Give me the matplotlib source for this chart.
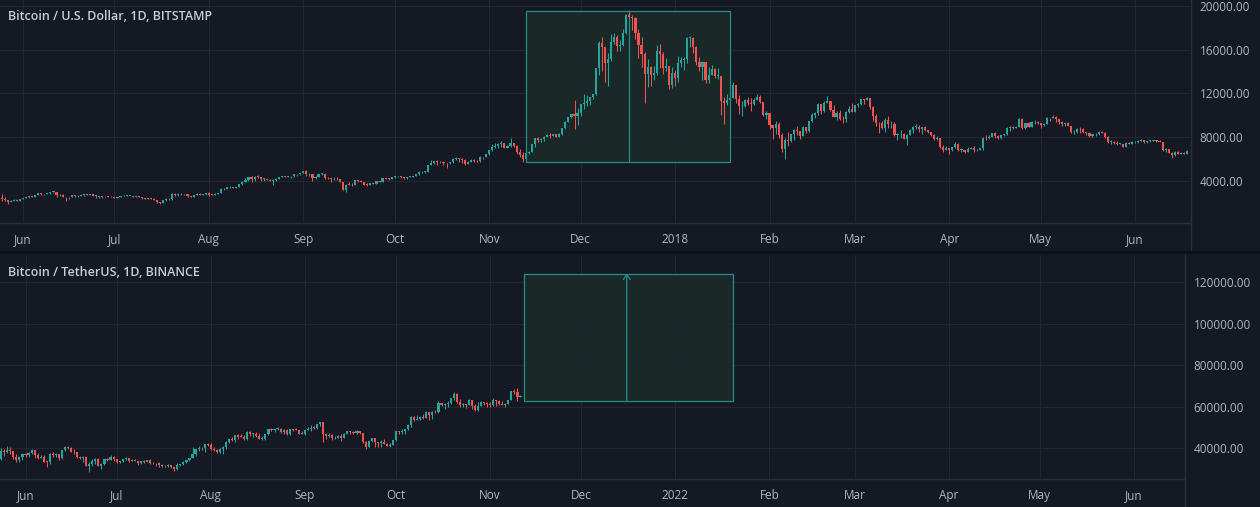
import matplotlib
matplotlib.use("Agg")
import matplotlib.pyplot as plt
import matplotlib.dates as mdates
from matplotlib.patches import Rectangle
from matplotlib.lines import Line2D
import numpy as np
import pandas as pd

BG = "#151924"
GRID = "#222632"
BORDER = "#2a2e39"
TXT = "#b2b5be"
TITLE = "#c9ccd4"
UP = "#26a69a"
DOWN = "#ef5350"
BOXLINE = "#238f84"

# ---- top pane: Bitcoin / U.S. Dollar, 1D, BITSTAMP (daily, from 2017-05-24)
top_title = "Bitcoin / U.S. Dollar, 1D, BITSTAMP"
top_start = "2017-05-24"
top_open0 = 2290
top_close = [
    2447, 2306, 2230, 2039, 2155, 2255, 2175, 2286,
    2407, 2488, 2515, 2511, 2686, 2863, 2732, 2805, 2823, 2947, 2958, 2659, 2717, 2506, 2464, 2518, 2655, 2548, 2589, 2721, 2689, 2705, 2745, 2589, 2589, 2478, 2577, 2574, 2539, 2481,
    2435, 2506, 2565, 2601, 2601, 2608, 2518, 2571, 2518, 2372, 2337, 2398, 2357, 2233, 1998, 1929, 2228, 2318, 2273, 2817, 2667, 2810, 2730, 2754, 2576, 2529, 2671, 2809, 2726, 2757, 2875,
    2718, 2710, 2804, 2895, 3252, 3213, 3379, 3419, 3342, 3381, 3650, 3884, 4073, 4326, 4181, 4376, 4331, 4160, 4193, 4087, 4001, 4100, 4151, 4334, 4371, 4352, 4382, 4382, 4579, 4565, 4703,
    4892, 4578, 4582, 4236, 4376, 4597, 4599, 4228, 4226, 4122, 4161, 4130, 3882, 3154, 3637, 3625, 3582, 4065, 3924, 3905, 3631, 3630, 3792, 3682, 3926, 3892, 4200, 4174, 4163, 4338,
    4403, 4409, 4317, 4229, 4328, 4370, 4426, 4610, 4772, 4781, 4826, 5446, 5647, 5831, 5678, 5725, 5606, 5590, 5708, 6011, 6031, 6008, 5930, 5526, 5750, 5904, 5780, 5753, 6153, 6130, 6468,
    6767, 7078, 7207, 7379, 7407, 7022, 7144, 7459, 7143, 6618, 6357, 5950, 6559, 6635, 7315, 7871, 7708, 7790, 8036, 8200, 8071, 8253, 8038, 8253, 8790, 9330, 9818, 10058, 9888, 10233,
    10975, 11074, 11323, 11657, 11916, 14291, 16600, 16200, 14800, 15100, 16700, 17200, 16300, 16400, 17500, 19200, 19000, 18900, 17500, 16400, 15600, 13800, 14400, 13700, 13900, 15900, 15600, 14300, 14500, 12800, 13900,
    13400, 14750, 15050, 15150, 17100, 17100, 16200, 14900, 14450, 14900, 13250, 13700, 14200, 13600, 13600, 11300, 11100, 11400, 11600, 12800, 11500, 10800, 10850, 11350, 11150, 11050, 11400, 11700, 11200, 10050, 10150,
    9100, 8850, 9150, 8200, 6900, 7700, 7600, 8250, 8650, 8550, 8100, 8880, 8550, 9480, 10050, 10150, 11050, 10400, 11150, 11250, 10450, 9850, 10150, 9650, 9600, 10300, 10600, 10320,
    10900, 11000, 11450, 11400, 11550, 10700, 9900, 9300, 9250, 8800, 9550, 9150, 9150, 8200, 8250, 8300, 7850, 8200, 8600, 8900, 8900, 8700, 8900, 8600, 8450, 8150, 7800, 7950, 7100, 6850, 6950,
    6850, 7050, 7400, 6800, 6800, 6620, 6900, 7000, 6780, 6830, 6950, 7900, 7880, 8000, 8350, 8050, 7900, 8150, 8270, 8850, 8900, 8800, 8930, 9650, 8860, 9280, 8920, 9340, 9400, 9240,
    9080, 9220, 9720, 9700, 9850, 9650, 9380, 9200, 9300, 9030, 8430, 8500, 8700, 8690, 8480, 8350, 8060, 8240, 8240, 8500, 8400, 8000, 7540, 7580, 7470, 7350, 7350, 7120, 7460, 7390, 7500,
    7530, 7640, 7710, 7500, 7620, 7650, 7680, 7620, 7520, 6780, 6890, 6560, 6320, 6650, 6430, 6530, 6480, 6700,
]
top_high = [
    2490, 2760, 2490, 2270, 2230, 2310, 2300, 2330,
    2450, 2510, 2550, 2560, 2700, 2910, 2890, 2815, 2860, 2975, 2980, 2990, 2790, 2790, 2530, 2530, 2670, 2680, 2640, 2740, 2800, 2770, 2780, 2770, 2650, 2620, 2600, 2610, 2600, 2560,
    2520, 2520, 2590, 2640, 2640, 2620, 2620, 2580, 2580, 2530, 2420, 2420, 2430, 2370, 2240, 2060, 2240, 2390, 2380, 2900, 2900, 2880, 2860, 2800, 2780, 2630, 2700, 2850, 2830, 2790, 2890,
    2920, 2760, 2830, 2900, 3290, 3290, 3400, 3480, 3430, 3420, 3680, 3950, 4200, 4330, 4400, 4390, 4480, 4370, 4200, 4180, 4110, 4140, 4240, 4370, 4460, 4380, 4400, 4390, 4630, 4650, 4740,
    4920, 4980, 4720, 4580, 4460, 4650, 4670, 4690, 4340, 4250, 4290, 4360, 4150, 3920, 3720, 3850, 3800, 4100, 4100, 4030, 3920, 3760, 3800, 3800, 3960, 3970, 4240, 4250, 4220, 4360,
    4410, 4470, 4430, 4350, 4360, 4430, 4460, 4630, 4880, 4920, 4870, 5450, 5850, 5840, 5860, 5780, 5780, 5620, 5730, 6070, 6190, 6080, 6070, 5980, 5800, 5980, 5990, 5860, 6230, 6190, 6470,
    6770, 7370, 7460, 7490, 7600, 7420, 7230, 7870, 7330, 7260, 6900, 6590, 6720, 6710, 7330, 7950, 8000, 7900, 8100, 8280, 8360, 8310, 8270, 8330, 8800, 9500, 9830, 10070, 11400, 10690,
    11000, 11900, 11850, 11670, 11950, 14300, 16800, 17200, 16300, 15700, 17400, 17500, 17300, 16900, 17900, 19300, 19600, 19150, 19000, 17900, 17200, 15800, 15100, 14500, 14500, 16400, 16500, 15800, 15200, 14500, 14400,
    14100, 15400, 15300, 15350, 17150, 17250, 17150, 16300, 15350, 15000, 14900, 14400, 14600, 14300, 14300, 13600, 11700, 11900, 11800, 13000, 12800, 11800, 11300, 11450, 11700, 11550, 11600, 11900, 11800, 11200, 10350,
    10200, 9100, 9480, 9380, 8400, 7900, 8500, 8300, 8750, 9000, 8560, 8980, 8950, 9500, 10200, 10280, 11100, 11050, 11250, 11780, 11200, 10900, 10400, 10500, 9900, 10400, 10880, 11080,
    10950, 11100, 11500, 11480, 11650, 11550, 10800, 10100, 9400, 9500, 9700, 9900, 9450, 9350, 8400, 8600, 8350, 8300, 8700, 9050, 9150, 9100, 8950, 9000, 8650, 8500, 8250, 8100, 7950, 7300, 7200,
    7000, 7100, 7500, 7450, 6950, 6850, 7050, 7100, 7180, 6900, 6980, 8000, 8200, 8150, 8400, 8410, 8150, 8200, 8300, 8920, 9020, 9000, 9000, 9720, 9760, 9300, 9380, 9450, 9580, 9450,
    9250, 9260, 9800, 9780, 9990, 9950, 9650, 9470, 9380, 9380, 9000, 8650, 8800, 8880, 8850, 8500, 8480, 8270, 8350, 8580, 8580, 8410, 8050, 7700, 7650, 7600, 7400, 7380, 7550, 7560, 7600,
    7600, 7680, 7780, 7740, 7640, 7700, 7740, 7720, 7680, 7520, 6950, 6900, 6650, 6700, 6680, 6600, 6580, 6780,
]
top_low = [
    2270, 2180, 2100, 1860, 2020, 2120, 2110, 2150,
    2280, 2380, 2450, 2480, 2500, 2680, 2680, 2660, 2780, 2800, 2880, 2460, 2620, 2460, 2120, 2360, 2500, 2500, 2520, 2580, 2600, 2650, 2680, 2560, 2450, 2400, 2420, 2500, 2520, 2460,
    2400, 2420, 2490, 2560, 2570, 2580, 2500, 2500, 2510, 2310, 2280, 2290, 2340, 2200, 1990, 1840, 1930, 2180, 2250, 2250, 2600, 2620, 2680, 2720, 2520, 2460, 2500, 2660, 2680, 2690, 2720,
    2620, 2660, 2700, 2780, 2890, 3160, 3210, 3360, 3280, 3320, 3380, 3630, 3860, 3990, 3900, 4000, 4260, 4000, 3990, 4040, 3930, 3620, 4000, 4120, 4300, 4290, 4330, 4280, 4340, 4470, 4550,
    4690, 4450, 4390, 3980, 4150, 4380, 4500, 4150, 4110, 3870, 4090, 4080, 3850, 3150, 2980, 3580, 3500, 3580, 3880, 3850, 3590, 3520, 3580, 3650, 3680, 3860, 3890, 4120, 4050, 4160,
    4280, 4350, 4210, 4190, 4190, 4310, 4330, 4400, 4560, 4710, 4700, 4810, 5410, 5540, 5450, 5590, 5460, 5120, 5550, 5630, 5910, 5710, 5640, 5460, 5480, 5700, 5700, 5670, 5680, 6000, 6120,
    6370, 6760, 6960, 7030, 7080, 7000, 6960, 7040, 7080, 6450, 6200, 5750, 5870, 6450, 6630, 7120, 7560, 7510, 7600, 8040, 7940, 8070, 8010, 7980, 8160, 8730, 9330, 9710, 8700, 9100,
    9950, 10600, 10800, 10900, 11500, 11800, 13700, 14000, 13000, 12700, 15000, 16500, 15900, 15900, 16300, 17400, 18900, 17800, 17000, 15200, 14400, 11100, 12600, 12700, 13200, 13700, 14300, 13800, 14000, 12400, 12500,
    12700, 13000, 14400, 14100, 14800, 16200, 15700, 14600, 14000, 13200, 12900, 12900, 13800, 13400, 13300, 10000, 9200, 10900, 11000, 11550, 11100, 10100, 9900, 10700, 10950, 10400, 10900, 11400, 11150, 9900, 9650,
    8760, 7800, 8300, 7930, 6600, 6000, 7200, 7550, 7760, 8200, 7850, 8100, 8400, 8500, 9400, 9700, 10050, 10100, 10300, 11100, 10350, 9800, 9580, 9550, 9320, 9400, 10200, 10300,
    10250, 10750, 10950, 11050, 11350, 10600, 9500, 9050, 8350, 8700, 8500, 8800, 8850, 8100, 7700, 7950, 7800, 7300, 8150, 8350, 8750, 8500, 8300, 8550, 8350, 8100, 7750, 7750, 6950, 6600, 6800,
    6450, 6750, 7000, 6750, 6600, 6520, 6600, 6930, 6620, 6700, 6800, 6800, 7750, 7820, 8000, 7950, 7850, 7850, 8100, 8200, 8550, 8750, 8800, 8900, 8700, 8730, 8900, 8900, 9200, 9150,
    8850, 9000, 9200, 9450, 9700, 9400, 9150, 9050, 9000, 9000, 8400, 8250, 8400, 8360, 8400, 8150, 8000, 8000, 8120, 8200, 8340, 7950, 7450, 7350, 7350, 7280, 7260, 7100, 7100, 7350, 7400,
    7450, 7480, 7600, 7480, 7450, 7550, 7600, 7580, 7500, 6700, 6660, 6500, 6100, 6300, 6420, 6400, 6450, 6450,
]
top_months = ["Jun", "Jul", "Aug", "Sep", "Oct", "Nov", "Dec", "2018", "Feb", "Mar", "Apr", "May", "Jun"]
top_prices = [4000, 8000, 12000, 16000, 20000]
top_box = ("2017-11-13", "2018-01-19", 5750, 19550)   # start, end, low, high
top_mark = "2017-12-17"

# ---- bottom pane: Bitcoin / TetherUS, 1D, BINANCE (daily, from 2021-05-24)
bot_title = "Bitcoin / TetherUS, 1D, BINANCE"
bot_start = "2021-05-24"
bot_open0 = 34655
bot_close = [
    38796, 38324, 39241, 38529, 35664, 34605, 35641, 37254,
    36693, 37568, 39246, 36829, 35513, 35796, 33552, 33380, 37389, 36675, 37331, 35546, 39020, 40516, 40144, 38349, 38092, 35820, 35483, 35600, 31608, 32509, 33678, 34663, 31584, 32283, 34700, 34494, 35911, 35045,
    33504, 33786, 34669, 35287, 33690, 34220, 33863, 32875, 33815, 33502, 34259, 33086, 32730, 32820, 31880, 31384, 31521, 31778, 30839, 29790, 32144, 32287, 33634, 34258, 35381, 37237, 39457, 40019, 40016, 42206, 41461,
    39845, 39147, 38207, 39723, 40862, 42836, 44614, 43829, 46286, 45595, 45555, 44428, 47834, 47025, 47097, 45993, 44696, 44706, 46760, 49339, 48905, 49321, 49546, 47707, 48993, 46843, 49069, 48896, 48767, 46970, 47100,
    48811, 49247, 50025, 49944, 51753, 52633, 46811, 46091, 46391, 44843, 45155, 46026, 44940, 47112, 48146, 47753, 47303, 48314, 47250, 43012, 40734, 43544, 44866, 42810, 42670, 43160, 42147, 41026, 41525, 43825,
    48142, 47634, 48200, 49225, 51471, 55315, 53785, 53951, 54949, 54659, 57471, 56006, 57370, 57347, 61672, 60875, 61528, 62010, 64280, 66001, 62193, 60688, 61286, 60852, 63078, 60328, 58413, 60575, 62253, 61859, 61300,
    60911, 63220, 62896, 61395, 60937, 61470, 63273, 67525, 66947, 64882, 65200,
]
bot_high = [
    39920, 39790, 40900, 40411, 38856, 37234, 36400, 37499,
    37896, 38225, 39476, 39289, 37925, 36790, 36900, 34068, 37534, 38392, 37680, 37438, 39380, 41064, 40978, 40540, 39559, 38202, 36457, 36139, 35750, 33298, 34881, 35298, 35500, 32730, 34749, 35297, 36600, 36100,
    35035, 33939, 34909, 35937, 35293, 35059, 35050, 33909, 34100, 34262, 34590, 34669, 33340, 33114, 33185, 32249, 31935, 32435, 31899, 31063, 32858, 32576, 33650, 34500, 35398, 40550, 39542, 40900, 40640, 42316, 42448,
    42599, 40471, 39780, 39969, 41350, 43392, 44700, 45310, 46456, 46700, 46743, 46218, 48144, 48168, 47372, 48053, 47160, 46000, 47050, 49382, 49757, 49500, 50500, 49875, 49278, 49370, 49150, 49300, 49757, 48900, 48250,
    48888, 50343, 51000, 50558, 51900, 52920, 52780, 47400, 47340, 47000, 45980, 46460, 46879, 47250, 48475, 48486, 48150, 48800, 48370, 47350, 43639, 44000, 45000, 45200, 42966, 43919, 44352, 42787, 42600, 44144,
    48495, 48350, 49228, 49500, 51886, 55750, 55332, 56100, 55490, 56561, 57839, 57680, 57773, 58532, 62933, 62000, 61700, 62675, 64486, 67000, 66639, 63732, 61747, 61500, 63710, 63293, 61496, 62499, 62960, 62359, 62450,
    62419, 64270, 63500, 63086, 62600, 61600, 63286, 67789, 68500, 69000, 65600,
]
bot_low = [
    34555, 36420, 37800, 37200, 34684, 33632, 33379, 34153,
    35666, 35920, 37170, 35555, 34800, 35258, 33300, 31000, 32396, 35782, 35936, 34600, 34757, 38730, 39506, 38116, 37365, 35129, 34818, 33336, 31251, 28805, 31683, 32286, 31275, 30151, 31964, 33862, 34231, 34017,
    32711, 32699, 33316, 34262, 33500, 33800, 33700, 32094, 32257, 33004, 33307, 32650, 32200, 31600, 31133, 31020, 31164, 31108, 30407, 29278, 29482, 31700, 31750, 32858, 33881, 35205, 36383, 38772, 39200, 38313, 41000,
    39422, 38690, 37627, 37508, 37332, 39853, 42450, 43322, 42844, 44689, 45350, 43770, 43793, 46000, 45525, 45647, 44376, 44214, 43955, 46645, 48300, 48000, 49027, 47600, 47122, 46315, 46361, 48393, 48610, 46853, 46700,
    46512, 48584, 48376, 49400, 49460, 50969, 42843, 44412, 45513, 44203, 44722, 44742, 43370, 44750, 46719, 47020, 46750, 47087, 46876, 42500, 39600, 40565, 43092, 40675, 40800, 40750, 42098, 40888, 40753, 41410,
    43283, 47045, 47100, 46891, 49000, 50382, 53357, 53617, 53661, 54090, 54415, 53879, 54167, 56818, 56850, 60150, 58963, 59844, 61322, 63481, 62000, 60000, 59700, 59510, 60650, 59001, 58000, 57820, 60174, 60675, 60000,
    59695, 60382, 60620, 60677, 60721, 60128, 61383, 63273, 66222, 62822, 64600,
]
bot_months = ["Jun", "Jul", "Aug", "Sep", "Oct", "Nov", "Dec", "2022", "Feb", "Mar", "Apr", "May", "Jun"]
bot_prices = [40000, 60000, 80000, 100000, 120000]
bot_box = ("2021-11-12", "2022-01-20", 63000, 124200)
bot_mark = "2021-12-16"

plt.rcParams["font.family"] = ["Open Sans", "DejaVu Sans"]

W, H = 1260, 507
fig = plt.figure(figsize=(W / 100, H / 100), dpi=100, facecolor=BG)


def px(x0, y0, x1, y1):
    return [x0 / W, 1 - y1 / H, (x1 - x0) / W, (y1 - y0) / H]


def candles(ax, start, open0, close, high, low, minh):
    x = mdates.date2num(pd.date_range(start, periods=len(close), freq="D"))
    c = np.array(close, float)
    o = np.concatenate([[open0], c[:-1]])
    h = np.maximum(np.array(high, float), np.maximum(o, c))
    l = np.minimum(np.array(low, float), np.minimum(o, c))
    col = np.where(c >= o, UP, DOWN)
    ax.vlines(x, l, h, colors=col, linewidth=0.75, zorder=3)
    ax.bar(x, np.maximum(np.abs(c - o), minh), width=0.7, bottom=np.minimum(o, c),
           color=col, linewidth=0, zorder=4)


def pane(rect, start, open0, close, high, low, months, prices, box, mark,
         x0, xlim, ylim, minh, title, title_y, arrow):
    ax = fig.add_axes(rect)
    ax.set_facecolor(BG)
    candles(ax, start, open0, close, high, low, minh)
    d0 = mdates.date2num(pd.Timestamp(x0))
    ax.set_xlim(d0 + xlim[0], d0 + xlim[1])
    ax.set_ylim(*ylim)
    ticks = mdates.date2num(pd.date_range(x0, periods=len(months), freq="MS"))
    ax.set_xticks(ticks)
    ax.set_xticklabels(months)
    ax.set_yticks(prices)
    ax.set_yticklabels([f"{p:.2f}" for p in prices])
    ax.yaxis.tick_right()
    ax.tick_params(axis="x", length=0, pad=7, colors=TXT, labelsize=8.5)
    ax.tick_params(axis="y", length=0, pad=7, colors=TXT, labelsize=8.5)
    for lab in ax.get_yticklabels():
        lab.set_horizontalalignment("left")
    ax.grid(True, color=GRID, linewidth=0.8, zorder=0)
    for s in ("top", "left", "right"):
        ax.spines[s].set_visible(False)
    ax.spines["bottom"].set_color(BORDER)
    ax.spines["bottom"].set_linewidth(1.0)

    b0 = mdates.date2num(pd.Timestamp(box[0]))
    b1 = mdates.date2num(pd.Timestamp(box[1]))
    ax.add_patch(Rectangle((b0, box[2]), b1 - b0, box[3] - box[2], facecolor="#4caf50",
                           alpha=0.1, edgecolor="none", zorder=1))
    ax.add_patch(Rectangle((b0, box[2]), b1 - b0, box[3] - box[2], facecolor="none",
                           edgecolor=BOXLINE, linewidth=0.9, zorder=5))
    xm = mdates.date2num(pd.Timestamp(mark))
    if arrow:
        ax.annotate("", xy=(xm, box[3]), xytext=(xm, box[2]),
                    arrowprops=dict(arrowstyle="->,head_length=0.35,head_width=0.25",
                                    color=BOXLINE, lw=0.9, shrinkA=0, shrinkB=0), zorder=5)
    else:
        ax.plot([xm, xm], [box[2], box[3]], color=BOXLINE, linewidth=0.9, zorder=2)
    fig.text(8 / W, 1 - title_y / H, title, color=TITLE, fontsize=9, fontweight="semibold",
             ha="left", va="center")
    return ax


pane(px(0, 0, 1190, 223), top_start, top_open0, top_close, top_high, top_low,
     top_months, top_prices, top_box, top_mark, "2017-06-01", (-7.55, 383.0),
     (119, 20546), 60, top_title, 17, False)
pane(px(0, 255, 1184, 479), bot_start, bot_open0, bot_close, bot_high, bot_low,
     bot_months, bot_prices, bot_box, bot_mark, "2021-06-01", (-8.4, 381.5),
     (25210, 133160), 300, bot_title, 272, True)

# pane borders / price-scale dividers
fig.add_artist(Line2D([1190.5 / W] * 2, [1, 1 - 251 / H], color=BORDER, linewidth=1.0))
fig.add_artist(Line2D([1184.5 / W] * 2, [1 - 253 / H, 0], color=BORDER, linewidth=1.0))
fig.add_artist(Line2D([0, 1], [1 - 251.5 / H] * 2, color="#0e111a", linewidth=2.0))

fig.savefig("out.png", dpi=100, facecolor=BG)
